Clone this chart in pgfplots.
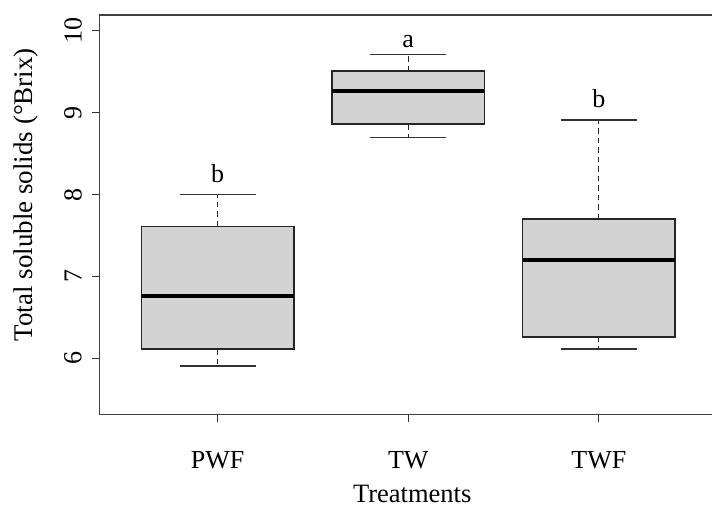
\documentclass[border=0pt]{standalone}
\usepackage{pgfplots}
\pgfplotsset{compat=1.18}
\usepackage{fontspec}
\setmainfont{Liberation Serif}
\definecolor{boxgray}{HTML}{D3D3D3}
\begin{document}
\begin{tikzpicture}
\begin{axis}[
  scale only axis, width=617.5bp, height=399.5bp,
  xmin=0.38, xmax=3.62, ymin=5.31, ymax=10.195,
  xtick={1,2,3}, xticklabels={PWF,TW,TWF},
  ytick={6,7,8,9,10},
  tick align=outside, tick pos=left,
  major tick length=7bp,
  /pgf/number format/assume math mode=true,
  every tick/.style={black!80, line width=1.1bp},
  axis line style={line width=1.2bp, black!75},
  tick label style={font=\fontsize{26bp}{31bp}\selectfont},
  xticklabel style={anchor=center, yshift=-39bp},
  yticklabel style={xshift=-19.5bp, rotate=90, anchor=center},
  xlabel={Treatments}, ylabel={Total soluble solids (°Brix)},
  xlabel style={font=\fontsize{26.5bp}{31bp}\selectfont, at={(axis description cs:0.5,0)}, anchor=center, xshift=4bp, yshift=-79.5bp},
  ylabel style={font=\fontsize{27bp}{32bp}\selectfont, at={(axis description cs:0,0.5)}, anchor=center, xshift=20bp, yshift=73.5bp},
  stem/.style={dash pattern=on 5.5bp off 4bp, line width=1.3bp, black!85},
  cap/.style={solid, line width=1.5bp, black!80},
  bx/.style={fill=boxgray, draw=black!85, line width=1.5bp, line join=miter},
  med/.style={line width=4bp, black},
]
% whisker stems (quartile to whisker)
\addplot[stem] coordinates {(1,6.11) (1,5.90)};
\addplot[stem] coordinates {(1,7.61) (1,8.00)};
\addplot[stem] coordinates {(2,8.86) (2,8.70)};
\addplot[stem] coordinates {(2,9.51) (2,9.71)};
\addplot[stem] coordinates {(3,6.26) (3,6.11)};
\addplot[stem] coordinates {(3,7.70) (3,8.91)};
% boxes (lower to upper quartile)
\addplot[bx] coordinates {(0.6,6.11) (1.4,6.11) (1.4,7.61) (0.6,7.61) (0.6,6.11)} -- cycle;
\addplot[bx] coordinates {(1.6,8.86) (2.4,8.86) (2.4,9.51) (1.6,9.51) (1.6,8.86)} -- cycle;
\addplot[bx] coordinates {(2.6,6.26) (3.4,6.26) (3.4,7.70) (2.6,7.70) (2.6,6.26)} -- cycle;
% medians
\addplot[med] coordinates {(0.6,6.76) (1.4,6.76)};
\addplot[med] coordinates {(1.6,9.26) (2.4,9.26)};
\addplot[med] coordinates {(2.6,7.20) (3.4,7.20)};
% whisker caps
\addplot[cap] coordinates {(0.8,5.90) (1.2,5.90)};
\addplot[cap] coordinates {(0.8,8.00) (1.2,8.00)};
\addplot[cap] coordinates {(1.8,8.70) (2.2,8.70)};
\addplot[cap] coordinates {(1.8,9.71) (2.2,9.71)};
\addplot[cap] coordinates {(2.8,6.11) (3.2,6.11)};
\addplot[cap] coordinates {(2.8,8.91) (3.2,8.91)};
\node[font=\fontsize{26bp}{31bp}\selectfont, anchor=center] at (axis cs:1,8.26) {b};
\node[font=\fontsize{26bp}{31bp}\selectfont, anchor=center] at (axis cs:2,9.87) {a};
\node[font=\fontsize{26bp}{31bp}\selectfont, anchor=center] at (axis cs:3,9.17) {b};
\end{axis}
\pgfresetboundingbox
\path (current axis.south west) ++(-99.5bp,-93.5bp) rectangle ++(712bp,508bp);
\end{tikzpicture}
\end{document}
